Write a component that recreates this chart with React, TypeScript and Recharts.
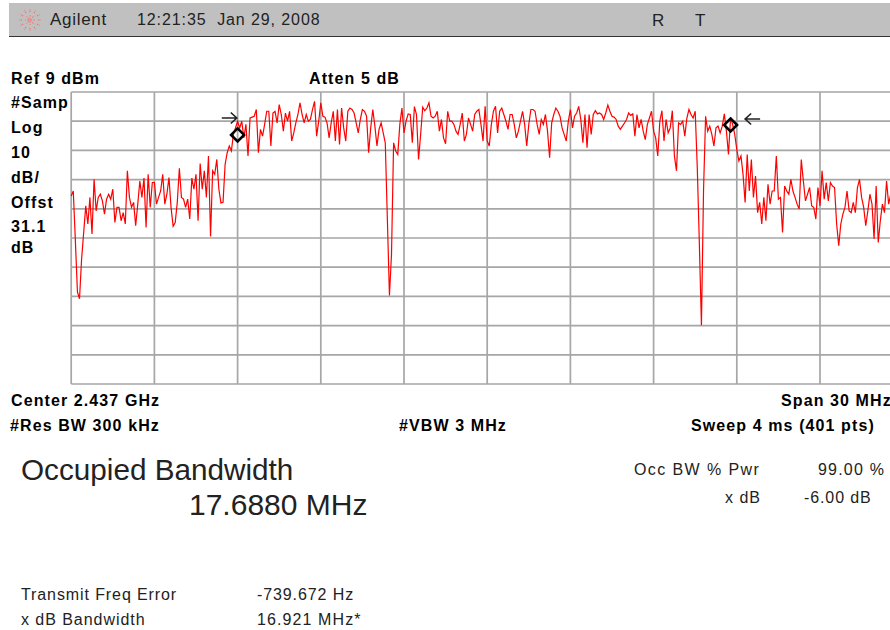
import React from "react";
import { LineChart, Line, XAxis, YAxis, CartesianGrid, ReferenceDot } from "recharts";

// Trace amplitude in dBm, sweep points 0..394 (of 401)
const lowerSkirt = [-26.6,-24.9,-41.9,-59.5,-61.8,-48.2,-39.1,-30,-36.2,-27.1,-39.6,-20.9,-31.7,-27.1,-26,-28.3,-32.8,-27.7,-26,-27.7,-24.3,-35.7,-30.5,-30.5,-35.1,-32.3,-36.2,-18,-27.1,-30.5,-28.8,-36.8,-29.4,-21.5,-27.1,-20.5,-37.4,-19.2,-30.5,-22,-22,-29.4,-27.1,-24.9,-19.2,-29.4,-26,-20.3,-30.5,-37,-35.7,-28.8,-17.1,-27.1,-27.7,-30.5,-27.7,-34.5,-20.5,-24.3,-19.2,-35.1,-15.5,-24.3,-18,-27.1,-12.9,-40.5,-18,-19.2,-14.1,-24.3,-29,-28.8,-15.8,-11.8,-9.5,-11.2,-5.5,-3.3,-1];
const bandFirst = [-3.3,-1,-6.7,-2.1,-12.9,0.1,0.4,0.7,3,-11.8,-3.8,-6.1,-2.1,2.4,2.4,-9.5,1.8,2.4,-1.6,4.7,1.3,-4.4,1.8,-1,2.4,-7.8,-5,-1.6,1.3,5.3,1.3,-1.6,1.3,-1,-0.4,3,5.8,-6.1,-1,5.3,0.7,0.4,-1.6,-6.7,-1.6,2.4,-7.8,3,-9,3.5,-3.3,-7.8,2.4,3.5,3,1.8,-1.6,-5,-0.4,3,2.4,0.7,-11.8,-3.3,3,-2.7,-9.5,-3.8,-1.6,-5,-8.4];
const notchOne = [-34.5,-60.7,-46.5,-8.4];
const bandMiddle = [-11.2,-12.4,-2.1,3.5,-5,-1,1.5,1.3,-8.4,4,1.3,-14.1,-5.5,3.8,2.6,3.5,5.3,0.7,0.1,0.7,2.4,-4.4,-0.4,-6.7,-8.7,2.4,-1,-1,-2.1,-4.4,-5.5,-2.1,1.8,-7.8,-5.5,0.1,-2.1,-4.4,1.3,2.4,3,-2.1,-7.8,4.1,-7.8,-9.5,-2.1,2.4,4.1,-5,2.4,3.5,1.3,-1,-3.8,1.3,1.3,-2.1,-6.7,-4.4,-1,2.4,-2.1,-9.5,-2.1,3,3,2.4,-2.1,-5.5,-0.4,-2.1,1.3,-4.4,-13.5,-1.6,1.3,3.5,2.4,0.7,-3.3,-5.5,-7.8,-1,3,-3.3,0.7,1.8,4.1,-0.4,-8.4];
const bandLast = [1.3,-10.1,1.3,-5.5,1.3,2.6,1.5,1.8,1.3,-0.4,1.8,4.5,2.4,0.7,0.4,-0.4,-2.7,-3.8,-2.7,-1.6,-0.4,1.8,1,1.5,-6.1,1.3,-3.3,-0.4,-4.4,-7.3,-2.1,0.1,2.4,-4.4,-6.7,-12.9,-1,2.6,-7.8,-0.4,-5,-3.3,2.6,-12.9,-18,-1.6,-2.1,-1,-6.1,0.1,3,1.3,0.1,2.4];
const notchTwo = [-16.9,-43,-70.9,-24.9];
const bandEdge = [0.7,-4.4,-2.7,-5.5,-9.5,-3.3,-2.7,-5,-2.7,1.5,-4.4,-12.4,0.1,-2.1,-5.5];
const upperSkirt = [-10.7,-14.6,-12.9,-19.2,-28.8,-12.4,-24.9,-14.1,-27.1,-19.8,-32.3,-28.8,-36.2,-27.1,-35.1,-22.6,-29.4,-24.9,-24.9,-12.9,-27.7,-27.1,-39.1,-23.2,-24.9,-26,-20.9,-24.9,-27.1,-29.4,-31.1,-14.1,-21.5,-28.3,-26,-23.7,-30,-30.5,-34.5,-23.7,-30,-18,-27.7,-22,-28.3,-22,-23.2,-23.7,-36.2,-43.6,-36.2,-32.8,-30.5,-24.9,-31.7,-32.3,-28.8,-32.3,-23.7,-20.9,-27.1,-30.5,-36.8,-31.7,-26,-29.4,-41.3,-23.2,-42.5,-35.1,-29.4,-32.3,-21.5,-29.4,-26];

const trace = [...lowerSkirt, ...bandFirst, ...notchOne, ...bandMiddle, ...bandLast, ...notchTwo, ...bandEdge, ...upperSkirt];
const rows = trace.map((dbm, point) => ({ point, dbm }));

const pointTicks = [0, 40, 80, 120, 160, 200, 240, 280, 320, 360, 400];
const levelTicks = [9, -1, -11, -21, -31, -41, -51, -61, -71, -81, -91];
const markers = [{ point: 80, dbm: -5.7 }, { point: 317, dbm: -2.3 }];

const FACE = "'Liberation Sans', Arial, sans-serif";
const B = 1.1;

type Lbl = [string, number, number, number, boolean, number];
// text, left, centre y, size, bold, letter spacing
const labels: Lbl[] = [
  ["Agilent", 50, 20, 17, false, 0.7],
  ["12:21:35  Jan 29, 2008", 137, 20, 16, false, 0.9],
  ["R", 652, 21, 17, false, 0],
  ["T", 695, 21, 17, false, 0],
  ["Ref 9 dBm", 11, 79, 16, true, B],
  ["Atten 5 dB", 309, 79, 16, true, B],
  ["#Samp", 11, 103, 16, true, B],
  ["Log", 11, 128, 16, true, B],
  ["10", 11, 153, 16, true, B],
  ["dB/", 11, 178, 16, true, B],
  ["Offst", 11, 203, 16, true, B],
  ["31.1", 11, 227, 16, true, B],
  ["dB", 11, 248, 16, true, B],
  ["Center 2.437 GHz", 11, 401, 16, true, B],
  ["Span 30 MHz", 781, 401, 16, true, B],
  ["#Res BW 300 kHz", 10, 426, 16, true, B],
  ["#VBW 3 MHz", 399, 426, 16, true, B],
  ["Sweep 4 ms (401 pts)", 691, 426, 16, true, B],
  ["Occupied Bandwidth", 21, 470, 29.7, false, 0],
  ["17.6880 MHz", 189, 505, 30, false, 0],
  ["Occ BW % Pwr", 634, 470, 16, false, 1.4],
  ["99.00 %", 818, 470, 16, false, 1.2],
  ["x dB", 725, 498, 16, false, 1],
  ["-6.00 dB", 804, 498, 16, false, 0.9],
  ["Transmit Freq Error", 21, 595, 16, false, 0.9],
  ["-739.672 Hz", 257, 595, 16, false, 0.9],
  ["x dB Bandwidth", 21, 620, 16, false, 0.95],
  ["16.921 MHz*", 257, 620, 16, false, 1.1],
];

const Diamond = (p: any) => (
  <path d={`M${p.cx} ${p.cy - 6.5}L${p.cx + 6.5} ${p.cy}L${p.cx} ${p.cy + 6.5}L${p.cx - 6.5} ${p.cy}Z`} fill="none" stroke="#000" strokeWidth={2.6} />
);
const ArrowRight = (p: any) => (
  <path d={`M${p.cx - 15} ${p.cy}H${p.cx}M${p.cx - 6} ${p.cy - 5.5}L${p.cx} ${p.cy}L${p.cx - 6} ${p.cy + 5.5}`} fill="none" stroke="#222" strokeWidth={1.6} />
);
const ArrowLeft = (p: any) => (
  <path d={`M${p.cx + 15} ${p.cy}H${p.cx}M${p.cx + 6} ${p.cy - 5.5}L${p.cx} ${p.cy}L${p.cx + 6} ${p.cy + 5.5}`} fill="none" stroke="#222" strokeWidth={1.6} />
);

const Star = () => (
  <svg width={24} height={24} style={{ position: "absolute", left: 18, top: 8 }}>
    {[0, 30, 60, 90, 120, 150, 180, 210, 240, 270, 300, 330].map((a) => (
      <line key={a} x1={12} y1={4} x2={12} y2={1} stroke="#f26a6a" strokeWidth={1.1} strokeDasharray="1.5 1" transform={`rotate(${a} 12 12)`} />
    ))}
    {[0, 45, 90, 135].map((a) => (
      <line key={a} x1={12} y1={7} x2={12} y2={17} stroke="#f08080" strokeWidth={1} strokeDasharray="2 1" transform={`rotate(${a} 12 12)`} />
    ))}
  </svg>
);

export default function App() {
  return (
    <div style={{ position: "fixed", left: 0, top: 0, width: 890, height: 630, overflow: "hidden", background: "#fff" }}>
      <div style={{ position: "absolute", left: 9, top: 3, width: 881, height: 33, background: "#c0c0c0", borderBottom: "1.5px solid #333" }} />
      <Star />
      <div style={{ position: "absolute", left: 0, top: 0 }}>
        <LineChart width={920} height={630} data={rows} margin={{ left: 71.2, right: 16.8, top: 92, bottom: 246 }}>
          <XAxis dataKey="point" type="number" domain={[0, 400]} ticks={pointTicks} hide />
          <YAxis type="number" domain={[-91, 9]} ticks={levelTicks} hide />
          <CartesianGrid stroke="#a6a6a6" strokeWidth={1.7} />
          <Line dataKey="dbm" type="linear" stroke="#ff0000" strokeWidth={1.2} dot={false} isAnimationActive={false} />
          <ReferenceDot x={markers[0].point} y={markers[0].dbm} shape={Diamond} />
          <ReferenceDot x={markers[1].point} y={markers[1].dbm} shape={Diamond} />
          <ReferenceDot x={79.6} y={0.1} shape={ArrowRight} />
          <ReferenceDot x={324} y={-0.25} shape={ArrowLeft} />
        </LineChart>
      </div>
      {labels.map(([t, x, y, s, b, ls], i) => (
        <div key={i} style={{ position: "absolute", left: x, top: y - 15, height: 30, lineHeight: "30px", fontFamily: FACE, fontSize: s, fontWeight: b ? 700 : 400, whiteSpace: "pre", color: b ? "#000" : "#222", letterSpacing: ls }}>{t}</div>
      ))}
    </div>
  );
}
